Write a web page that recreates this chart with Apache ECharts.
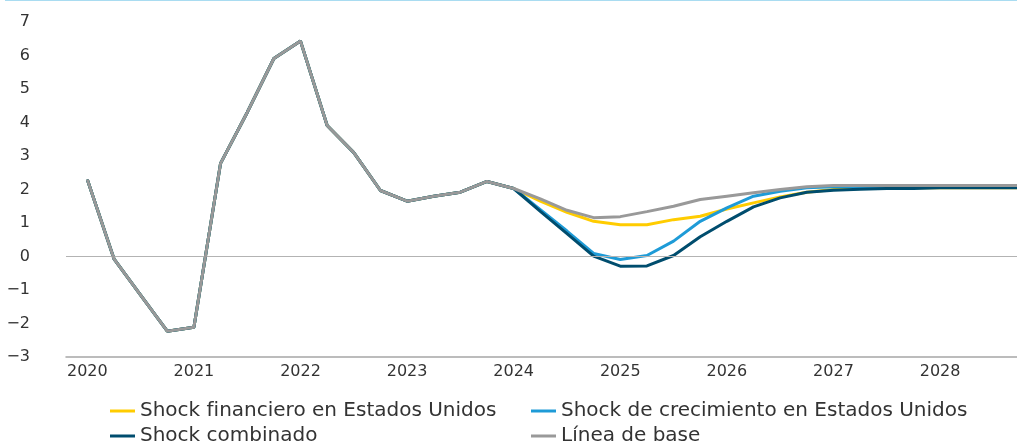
<!DOCTYPE html>
<html lang="es">
<head>
    <meta charset="UTF-8">
    <title>Escenarios de crecimiento</title>
    <script src="https://cdn.jsdelivr.net/npm/echarts@6/dist/echarts.min.js"></script>
    <style>
        html, body { margin: 0; padding: 0; background: #fff; }
    </style>
</head>
<body>
<div id="main" style="width: 1017px;height: 446px;"></div>
<script>
    // trimestres 2020T1 .. 2028T4 (indice 0..35)
    var years = ['2020','2021','2022','2023','2024','2025','2026','2027','2028'];

    var lineaBase = [2.3, -0.07, -1.15, -2.23, -2.11, 2.78, 4.3, 5.91, 6.43, 3.91, 3.1, 1.97,
        1.65, 1.8, 1.92, 2.24, 2.03, 1.72, 1.38, 1.16, 1.19, 1.34, 1.5, 1.7,
        1.8, 1.9, 2.0, 2.08, 2.12, 2.12, 2.12, 2.12, 2.12, 2.12, 2.12, 2.12];
    var shockFinanciero = [2.3, -0.07, -1.15, -2.23, -2.11, 2.78, 4.3, 5.91, 6.43, 3.91, 3.1, 1.97,
        1.65, 1.8, 1.92, 2.24, 2.03, 1.65, 1.32, 1.05, 0.95, 0.95, 1.1, 1.2,
        1.42, 1.6, 1.78, 1.92, 2.0, 2.03, 2.05, 2.05, 2.05, 2.05, 2.05, 2.05];
    var shockCrecimiento = [2.3, -0.07, -1.15, -2.23, -2.11, 2.78, 4.3, 5.91, 6.43, 3.91, 3.1, 1.97,
        1.65, 1.8, 1.92, 2.24, 2.03, 1.4, 0.76, 0.09, -0.09, 0.03, 0.46, 1.05,
        1.45, 1.8, 1.95, 2.05, 2.08, 2.08, 2.08, 2.08, 2.08, 2.08, 2.08, 2.08];
    var shockCombinado = [2.3, -0.07, -1.15, -2.23, -2.11, 2.78, 4.3, 5.91, 6.43, 3.91, 3.1, 1.97,
        1.65, 1.8, 1.92, 2.24, 2.03, 1.35, 0.68, 0.01, -0.29, -0.28, 0.03, 0.59,
        1.05, 1.48, 1.75, 1.92, 1.98, 2.01, 2.03, 2.03, 2.05, 2.05, 2.05, 2.05];

    var nombres = ['Shock financiero en Estados Unidos', 'Shock de crecimiento en Estados Unidos',
        'Shock combinado', 'Línea de base'];
    var colores = ['#FFCC00', '#1E9BD7', '#004D6E', '#999999'];
    var datos = [shockFinanciero, shockCrecimiento, shockCombinado, lineaBase];

    var fuente = 'DejaVu Sans';
    var myChart = echarts.init(document.getElementById('main'));

    var series = [];
    for (var i = 0; i < datos.length; i++) {
        var pts = [];
        for (var j = 0; j < datos[i].length; j++) pts.push([j, datos[i][j]]);
        series.push({
            name: nombres[i],
            type: 'line',
            data: pts,
            symbol: 'none',
            z: 2 + i,
            lineStyle: { color: colores[i], width: 3 },
            itemStyle: { color: colores[i] }
        });
    }
    // linea del cero
    series[0].markLine = {
        silent: true,
        symbol: 'none',
        label: { show: false },
        lineStyle: { color: '#b3b3b3', width: 1, type: 'solid' },
        data: [{ yAxis: 0 }]
    };

    // etiquetas de año en el primer trimestre
    var posAnios = [];
    for (var k = 0; k < years.length; k++) posAnios.push(k * 4);

    // una leyenda por elemento: dos columnas, dos filas
    var legendPos = [[110, 401], [531, 401], [110, 426], [531, 426]];
    var legends = [];
    for (var m = 0; m < nombres.length; m++) {
        legends.push({
            left: legendPos[m][0],
            top: legendPos[m][1],
            padding: 0,
            data: [nombres[m]],
            itemWidth: 25,
            itemHeight: 3,
            icon: 'rect',
            textStyle: { fontFamily: fuente, fontSize: 20, color: '#333' }
        });
    }

    var option = {
        animation: false,
        graphic: [{
            type: 'rect',
            shape: { x: 5, y: 0, width: 1012, height: 1 },
            style: { fill: '#a9dcf1' }
        }],
        legend: legends,
        grid: { left: 66, right: -3, top: 22, bottom: 89, outerBoundsMode: 'none' },
        xAxis: {
            type: 'value',
            min: -0.8,
            max: 35,
            splitLine: { show: false },
            axisLine: { show: true, onZero: false, lineStyle: { color: '#a6a6a6', width: 1.5 } },
            axisTick: { show: false },
            axisLabel: {
                customValues: posAnios,
                margin: 7,
                fontFamily: fuente,
                fontSize: 16,
                color: '#333',
                formatter: function (v) { return years[Math.round(v / 4)]; }
            }
        },
        yAxis: {
            type: 'value',
            min: -3,
            max: 7,
            interval: 1,
            name: '%',
            nameLocation: 'middle',
            nameRotate: 90,
            nameGap: 46,
            nameTextStyle: { fontFamily: fuente, fontSize: 16, color: '#333' },
            splitLine: { show: false },
            axisLine: { show: false },
            axisTick: { show: false },
            axisLabel: {
                margin: 36,
                align: 'right',
                fontFamily: fuente,
                fontSize: 16,
                color: '#333',
                formatter: function (v) { return String(v).replace('-', '\u2212'); }
            }
        },
        series: series
    };

    myChart.setOption(option);
</script>
</body>
</html>
